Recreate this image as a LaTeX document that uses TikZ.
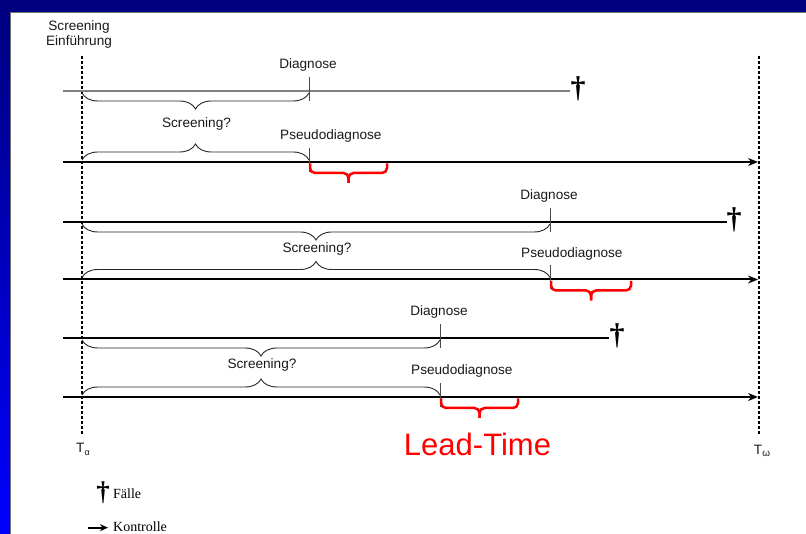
\documentclass[tikz,border=0pt]{standalone}
\usepackage{fontspec}
\setmainfont{Liberation Sans}
\newfontfamily\serifdag{Liberation Serif}
\usetikzlibrary{decorations.pathreplacing,arrows.meta}
\definecolor{navybar}{RGB}{0,0,128}
\definecolor{bluebar}{RGB}{0,0,255}
\begin{document}
\begin{tikzpicture}[x=1pt,y=-1pt,
  lbl/.style={font=\fontsize{13.6}{15}\selectfont, inner sep=0pt, text=black!90},
  kline/.style={line width=2pt, -{Stealth[length=10pt,width=8pt]}},
  tick/.style={line width=1pt, draw=black!70},
  sbrace/.style={line width=0.9pt, draw=black!85, decorate},
  rbrace/.style={line width=2.5pt, draw=red, rounded corners=5pt},
  tline/.style={line width=1.8pt, dash pattern=on 3pt off 2pt},
  dagger/.style={font=\serifdag\bfseries\fontsize{30}{30}\selectfont, inner sep=0pt, anchor=base},
  legtext/.style={font=\serifdag\fontsize{14}{16}\selectfont, inner sep=0pt, anchor=base west}
]
\useasboundingbox (0,0) rectangle (806,534);
% slide background
\fill[white] (0,0) rectangle (806,534);
\fill[navybar] (0,0) rectangle (806,12);
\shade[top color=navybar, bottom color=bluebar] (0,12) rectangle (10,534);
\draw[black!55, line width=0.8pt] (10,534) -- (10,12) -- (806,12);

% title
\node[lbl, anchor=base] (scr) at (79,30.7) {Screening};
\node[lbl, anchor=base] (ein) at (79,46) {Einführung};

% time borders
\coordinate (ta) at (82,56);
\coordinate (tab) at (82,435);
\coordinate (tw) at (759,56);
\coordinate (twb) at (759,435);
\draw[tline] (ta) -- (tab);
\draw[tline] (tw) -- (twb);
\node[lbl, anchor=base] (Ta) at (83,453) {T\raisebox{-2.5pt}{\fontsize{9}{9}\selectfont α}};
\node[lbl, anchor=base] (Tw) at (762,454) {T\raisebox{-2.5pt}{\fontsize{10}{10}\selectfont ω}};

\foreach \i/\yu/\yl/\xd/\xe/\xg/\xr/\fc/\fw in {1/91/162/309/570/578/387/black!50/1.5, 2/222/279.5/550/727/734/631/black/1.1, 3/338/397/440/609/617/518/black/1.1}{
  \pgfmathsetmacro\xm{(82+\xd)/2+1}
  \pgfmathsetmacro\ym{(\yu+\yl)/2+1.5}
  \pgfmathsetmacro\xrm{(\xd+1+\xr)/2}
  % lines
  \coordinate (us\i) at (63,\yu);
  \coordinate (ue\i) at (\xe,\yu);
  \coordinate (ls\i) at (63,\yl);
  \coordinate (le\i) at (758,\yl);
  \draw[draw=\fc, line width=\fw pt] (us\i) -- (ue\i);
  \draw[kline] (ls\i) -- (le\i);
  % ticks
  \coordinate (dt\i) at (\xd,\yu-14);
  \coordinate (db\i) at (\xd,\yu+10);
  \coordinate (pt\i) at (\xd,\yl-14);
  \coordinate (pb\i) at (\xd,\yl+10);
  \draw[tick] (dt\i) -- (db\i);
  \draw[tick] (pt\i) -- (pb\i);
  % screening braces
  \coordinate (ba\i) at (82,\yu+2);
  \coordinate (bb\i) at (\xd,\yu+2);
  \coordinate (ca\i) at (82,\yl-2);
  \coordinate (cb\i) at (\xd,\yl-2);
  \draw[sbrace, decoration={brace,mirror,amplitude=16pt}] (ba\i) -- (bb\i);
  \draw[sbrace, decoration={brace,amplitude=16pt}] (ca\i) -- (cb\i);
  % red lead-time brace
  \coordinate (ra\i) at (\xd+1,\yl+1.5);
  \coordinate (rb\i) at (\xr,\yl+1.5);
  \coordinate (rm\i) at (\xrm,\yl+11);
  \coordinate (rt\i) at (\xrm,\yl+21);
  \draw[rbrace] (ra\i) -- (\xd+1,\yl+11) -- (rm\i) -- (rt\i);
  \draw[rbrace] (rb\i) -- (\xr,\yl+11) -- (rm\i) -- (rt\i);
  % labels
  \node[lbl, anchor=base] (dg\i) at (\xd-1,\yu-22) {Diagnose};
  \node[lbl, anchor=base west] (pd\i) at (\xd-29,\yl-22) {Pseudodiagnose};
  \node[lbl, anchor=base] (sc\i) at (\xm,\ym) {Screening?};
  \node[dagger] (dag\i) at (\xg,\yu+7) {†};
}

% lead time
\node[font=\fontsize{31}{31}\selectfont, text=red, anchor=base, inner sep=0pt] (lt) at (477.5,456) {Lead-Time};

% legend
\node[dagger, font=\serifdag\bfseries\fontsize{27}{27}\selectfont] (lgd) at (103,500) {†};
\node[legtext] (lgf) at (113,498) {Fälle};
\coordinate (la) at (88,527.7);
\coordinate (lb) at (108,527.7);
\draw[line width=1.8pt, -{Stealth[length=8pt,width=7pt]}] (la) -- (lb);
\node[legtext] (lgk) at (113,531) {Kontrolle};
\end{tikzpicture}
\end{document}
